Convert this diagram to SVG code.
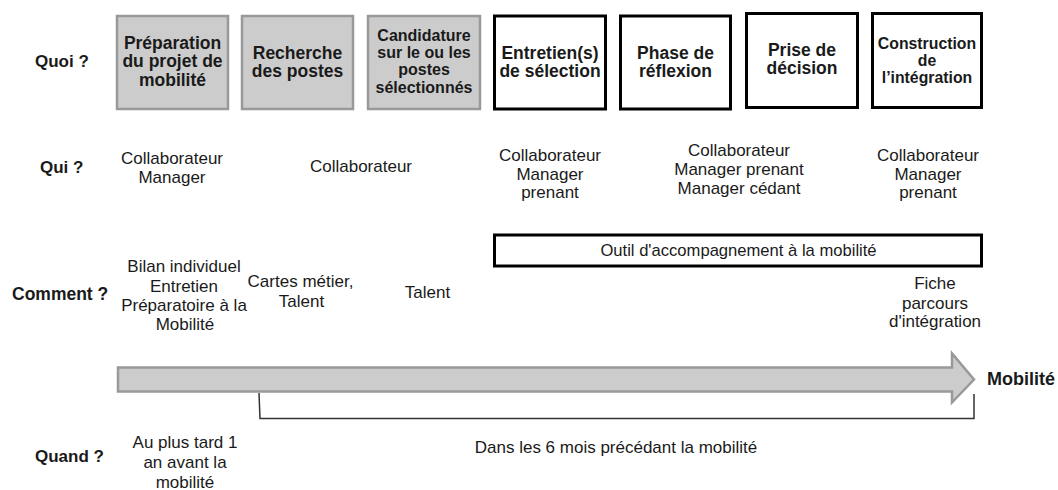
<svg xmlns="http://www.w3.org/2000/svg" width="1058" height="490" viewBox="0 0 1058 490">
<style>
text{font-family:"Liberation Sans",Arial,sans-serif;fill:#1a1a1a;text-anchor:middle}
.lbl{font-weight:bold;font-size:17px;text-anchor:start}
.bt{font-weight:bold;font-size:17.5px}
.bs{font-weight:bold;font-size:16px}
.t{font-size:17px}
.gray{fill:#cccccc;stroke:#999999;stroke-width:2.5}
.blk{fill:#ffffff;stroke:#000000;stroke-width:3}
</style>
<rect width="1058" height="490" fill="#ffffff"/>

<g id="row-labels">
<text class="lbl" x="35" y="67">Quoi ?</text>
<text class="lbl" x="40" y="173">Qui ?</text>
<text class="lbl" x="12" y="300" style="font-size:17.5px">Comment ?</text>
<text class="lbl" x="35" y="462">Quand ?</text>
</g>

<g id="step1">
<rect class="gray" x="117" y="16" width="111" height="93"/>
<text class="bt" x="172.5" y="48.5">Préparation</text>
<text class="bt" x="172.5" y="67">du projet de</text>
<text class="bt" x="172.5" y="86">mobilité</text>
</g>
<g id="step2">
<rect class="gray" x="242" y="16" width="111" height="93"/>
<text class="bt" x="297.5" y="59.3">Recherche</text>
<text class="bt" x="297.5" y="77.3">des postes</text>
</g>
<g id="step3">
<rect class="gray" x="368" y="16" width="112" height="93"/>
<text class="bs" x="424" y="41">Candidature</text>
<text class="bs" x="424" y="58">sur le ou les</text>
<text class="bs" x="424" y="75">postes</text>
<text class="bs" x="424" y="92.5">sélectionnés</text>
</g>
<g id="step4">
<rect class="blk" x="494.5" y="16" width="111" height="93"/>
<text class="bt" x="550" y="59.3">Entretien(s)</text>
<text class="bt" x="550" y="77.3">de sélection</text>
</g>
<g id="step5">
<rect class="blk" x="620.5" y="16" width="110" height="93"/>
<text class="bt" x="675.5" y="58.8">Phase de</text>
<text class="bt" x="675.5" y="76.8">réflexion</text>
</g>
<g id="step6">
<rect class="blk" x="746.5" y="13.5" width="111" height="94"/>
<text class="bt" x="802" y="56.3">Prise de</text>
<text class="bt" x="802" y="74.3">décision</text>
</g>
<g id="step7">
<rect class="blk" x="872.5" y="13.5" width="109" height="94"/>
<text class="bs" x="927" y="48.5" style="font-size:15.8px">Construction</text>
<text class="bs" x="927" y="65.5" style="font-size:15.8px">de</text>
<text class="bs" x="927" y="82.5" style="font-size:15.8px">l’intégration</text>
</g>

<g id="qui">
<text class="t" x="172" y="164">Collaborateur</text>
<text class="t" x="172" y="183">Manager</text>
<text class="t" x="361" y="172">Collaborateur</text>
<text class="t" x="550" y="160.7">Collaborateur</text>
<text class="t" x="550" y="179.5">Manager</text>
<text class="t" x="550" y="198">prenant</text>
<text class="t" x="739" y="156">Collaborateur</text>
<text class="t" x="739" y="175">Manager prenant</text>
<text class="t" x="739" y="194">Manager cédant</text>
<text class="t" x="928" y="160.7">Collaborateur</text>
<text class="t" x="928" y="179.5">Manager</text>
<text class="t" x="928" y="198">prenant</text>
</g>

<g id="outil">
<rect class="blk" x="494.5" y="235" width="487" height="31"/>
<text class="t" x="738.5" y="256" style="font-size:16.6px">Outil d'accompagnement à la mobilité</text>
</g>

<g id="comment">
<text class="t" x="184" y="271.7">Bilan individuel</text>
<text class="t" x="184" y="291.5">Entretien</text>
<text class="t" x="184" y="311">Préparatoire à la</text>
<text class="t" x="185" y="330">Mobilité</text>
<text class="t" x="300.5" y="287.3">Cartes métier,</text>
<text class="t" x="301.5" y="306.7">Talent</text>
<text class="t" x="427.5" y="298.3">Talent</text>
<text class="t" x="935" y="289.3">Fiche</text>
<text class="t" x="935" y="308.5">parcours</text>
<text class="t" x="935" y="327">d'intégration</text>
</g>

<g id="connectors">
<path d="M118,367.5 H952 V353.5 L974,379.5 L952,402.5 V391.5 H118 Z" fill="#cccccc" stroke="#999999" stroke-width="2.5" stroke-linejoin="miter"/>
<path d="M259,393 L260,418.5 H974 V394" fill="none" stroke="#333333" stroke-width="1.5"/>
</g>

<g id="mobilite">
<text class="lbl" x="987" y="385" style="font-size:18px">Mobilité</text>
</g>

<g id="quand">
<text class="t" x="185" y="448.3">Au plus tard 1</text>
<text class="t" x="185" y="468.3">an avant la</text>
<text class="t" x="185" y="487.5">mobilité</text>
<text class="t" x="616" y="453.3">Dans les 6 mois précédant la mobilité</text>
</g>
</svg>
